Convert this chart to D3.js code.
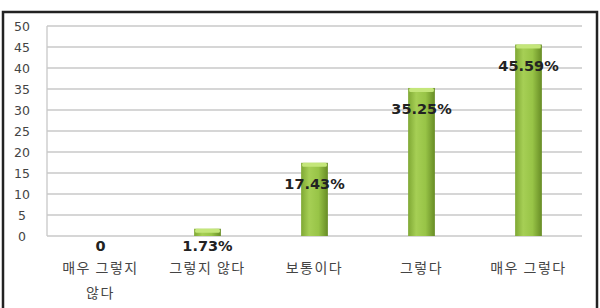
<!DOCTYPE html>
<html>
<head>
<meta charset="utf-8">
<script src="https://cdn.jsdelivr.net/npm/d3@7"></script>
<style>
  body { margin: 0; background: #fff; }
  svg { display: block; }
</style>
</head>
<body>
<div id="chart"></div>
<script>
// data
const categories = ["매우 그렇지 않다", "그렇지 않다", "보통이다", "그렇다", "매우 그렇다"];
const categoryLines = [["매우 그렇지", "않다"], ["그렇지 않다"], ["보통이다"], ["그렇다"], ["매우 그렇다"]];
const values = [0, 1.73, 17.43, 35.25, 45.59];
const valueLabels = ["0", "1.73%", "17.43%", "35.25%", "45.59%"];
const yTicks = [0, 5, 10, 15, 20, 25, 30, 35, 40, 45, 50];

const rows = categories.map((c, i) => ({ cat: c, lines: categoryLines[i], value: values[i], label: valueLabels[i] }));

const W = 600, H = 308;
const plot = { left: 47, right: 582, top: 26, bottom: 236 };

const svg = d3.select("#chart").append("svg").attr("width", W).attr("height", H);

// gradient for the bars
const defs = svg.append("defs");
const grad = defs.append("linearGradient").attr("id", "barGrad")
  .attr("x1", "0%").attr("x2", "100%").attr("y1", "0%").attr("y2", "0%");
grad.append("stop").attr("offset", "0%").attr("stop-color", "#7fa834");
grad.append("stop").attr("offset", "30%").attr("stop-color", "#a6cf55");
grad.append("stop").attr("offset", "65%").attr("stop-color", "#98c447");
grad.append("stop").attr("offset", "100%").attr("stop-color", "#678c25");

// outer frame
svg.append("rect")
  .attr("x", 3).attr("y", 12).attr("width", 594).attr("height", 300)
  .attr("fill", "none").attr("stroke", "#222").attr("stroke-width", 2.5);

const x = d3.scaleBand().domain(categories).range([plot.left, plot.right]).paddingInner(0.75).paddingOuter(0.375);
const y = d3.scaleLinear().domain([0, 50]).range([plot.bottom, plot.top]);

// gridlines
svg.append("g")
  .selectAll("line")
  .data(yTicks)
  .join("line")
  .attr("x1", plot.left).attr("x2", plot.right)
  .attr("y1", (d) => y(d)).attr("y2", (d) => y(d))
  .attr("stroke", "#c8c8c8").attr("stroke-width", 1.3);

// left axis line
svg.append("line")
  .attr("x1", plot.left).attr("x2", plot.left)
  .attr("y1", plot.top).attr("y2", plot.bottom)
  .attr("stroke", "#c8c8c8").attr("stroke-width", 1.3);

// y axis labels
const yAxis = svg.append("g")
  .attr("transform", `translate(${plot.left - 14},0)`)
  .call(d3.axisLeft(y).tickValues(yTicks).tickSize(0).tickPadding(0));
yAxis.select(".domain").remove();
yAxis.selectAll("text")
  .attr("font-family", "'DejaVu Sans', sans-serif")
  .attr("font-size", 12.5)
  .attr("fill", "#444")
  .attr("text-anchor", "middle")
  .attr("x", -11);

// bars
const bars = svg.append("g")
  .selectAll("g")
  .data(rows)
  .join("g");

bars.append("rect")
  .attr("x", (d) => x(d.cat))
  .attr("y", (d) => y(d.value))
  .attr("width", x.bandwidth())
  .attr("height", (d) => y(0) - y(d.value))
  .attr("fill", "url(#barGrad)");

// light cap on top of each bar
bars.filter((d) => d.value > 0).append("rect")
  .attr("x", (d) => x(d.cat) + 1)
  .attr("y", (d) => y(d.value))
  .attr("width", x.bandwidth() - 2)
  .attr("height", (d) => Math.min(4, y(0) - y(d.value)))
  .attr("rx", 1.5)
  .attr("fill", "#c4e67a");

// value labels
svg.append("g")
  .selectAll("text")
  .data(rows)
  .join("text")
  .attr("x", (d) => x(d.cat) + x.bandwidth() / 2)
  .attr("y", (d) => Math.min(y(d.value) + 21, y(0) + 10))
  .attr("dy", "0.35em")
  .attr("text-anchor", "middle")
  .attr("font-family", "'DejaVu Sans', sans-serif")
  .attr("font-weight", "bold")
  .attr("font-size", 14.5)
  .attr("fill", "#222")
  .text((d) => d.label);

// category labels
const cat = svg.append("g")
  .selectAll("text")
  .data(rows)
  .join("text")
  .attr("x", (d) => x(d.cat) + x.bandwidth() / 2)
  .attr("y", 268)
  .attr("text-anchor", "middle")
  .attr("font-family", "'Noto Sans CJK KR', sans-serif")
  .attr("font-size", 14)
  .attr("letter-spacing", 1.5)
  .attr("fill", "#444");
cat.selectAll("tspan")
  .data((d) => d.lines.map((t) => ({ t, x: x(d.cat) + x.bandwidth() / 2 })))
  .join("tspan")
  .attr("x", (d) => d.x)
  .attr("dy", (d, i) => (i === 0 ? "0.35em" : "25px"))
  .text((d) => d.t);
</script>
</body>
</html>
